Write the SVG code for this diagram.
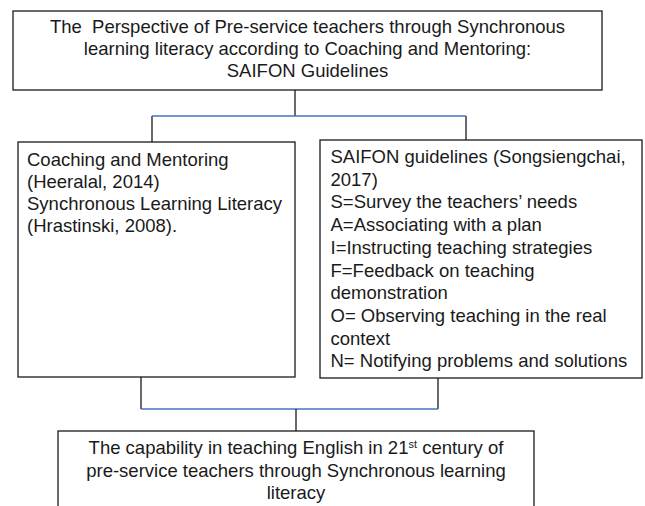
<svg xmlns="http://www.w3.org/2000/svg" width="645" height="506" viewBox="0 0 645 506">
<style>
.box{fill:#fff;stroke:#1a1a1a;stroke-width:1.3}
.t{font-family:"Liberation Sans",Arial,sans-serif;font-size:18.5px;fill:#1a1a1a}
.c{text-anchor:middle}
.k{stroke:#1a1a1a;stroke-width:1.3;fill:none}
.b{stroke:#4472C4;stroke-width:1.3;fill:none}
</style>
<rect width="645" height="506" fill="#fff"/>
<g id="connectors">
<line class="k" x1="295" y1="90" x2="295" y2="116"/>
<line class="k" x1="152" y1="116" x2="152" y2="142"/>
<line class="k" x1="466" y1="116" x2="466" y2="140"/>
<line class="b" x1="152" y1="116" x2="466" y2="116"/>
<line class="k" x1="141" y1="377" x2="141" y2="409"/>
<line class="k" x1="438" y1="378" x2="438" y2="409"/>
<line class="b" x1="141" y1="409" x2="438" y2="409"/>
<line class="k" x1="296" y1="409" x2="296" y2="431"/>
</g>
<g id="top">
<rect class="box" x="13" y="11" width="589" height="79"/>
<text class="t c" x="307.5" y="33" xml:space="preserve" style="white-space:pre">The  Perspective of Pre-service teachers through Synchronous</text>
<text class="t c" x="307.5" y="55">learning literacy according to Coaching and Mentoring:</text>
<text class="t c" x="307.5" y="77">SAIFON Guidelines</text>
</g>
<g id="left">
<rect class="box" x="18" y="142" width="277" height="235"/>
<text class="t" x="27" y="165.7">Coaching and Mentoring</text>
<text class="t" x="27" y="187.9">(Heeralal, 2014)</text>
<text class="t" x="27" y="210.1">Synchronous Learning Literacy</text>
<text class="t" x="27" y="232.3">(Hrastinski, 2008).</text>
</g>
<g id="right">
<rect class="box" x="320" y="140" width="322" height="238"/>
<text class="t" x="330.5" y="163">SAIFON guidelines (Songsiengchai,</text>
<text class="t" x="330.5" y="185.7">2017)</text>
<text class="t" x="330.5" y="208.4">S=Survey the teachers’ needs</text>
<text class="t" x="330.5" y="231.1">A=Associating with a plan</text>
<text class="t" x="330.5" y="253.8">I=Instructing teaching strategies</text>
<text class="t" x="330.5" y="276.5">F=Feedback on teaching</text>
<text class="t" x="330.5" y="299.2">demonstration</text>
<text class="t" x="330.5" y="321.9">O= Observing teaching in the real</text>
<text class="t" x="330.5" y="344.6">context</text>
<text class="t" x="330.5" y="367.3">N= Notifying problems and solutions</text>
</g>
<g id="bottom">
<rect class="box" x="58" y="431" width="476" height="90"/>
<text class="t c" x="296" y="454">The capability in teaching English in 21<tspan font-size="11" dy="-6">st</tspan><tspan dy="6"> century of</tspan></text>
<text class="t c" x="296" y="476.5">pre-service teachers through Synchronous learning</text>
<text class="t c" x="296" y="499">literacy</text>
</g>
</svg>
